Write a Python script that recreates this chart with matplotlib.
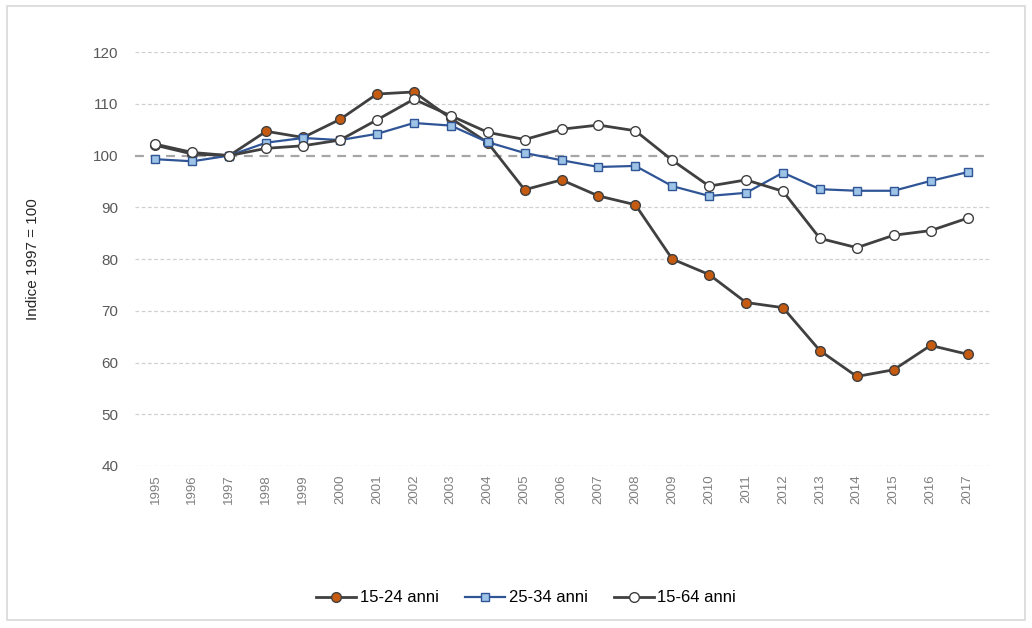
import matplotlib
matplotlib.use("Agg")
import matplotlib.pyplot as plt
from matplotlib.patches import Rectangle

plt.rcParams['font.family'] = ['Liberation Sans', 'DejaVu Sans']

years = list(range(1995, 2018))
year_labels = [str(y) for y in years]

s_15_24 = [102.0, 100.3, 100.0, 104.7, 103.5, 107.0, 111.9, 112.3, 107.2, 102.5,
           93.4, 95.3, 92.2, 90.5, 80.0, 77.0, 71.6, 70.6, 62.3, 57.3, 58.6, 63.3, 61.6]
s_25_34 = [99.3, 98.9, 100.0, 102.5, 103.4, 103.0, 104.2, 106.3, 105.8, 102.6,
           100.5, 99.1, 97.8, 98.0, 94.1, 92.2, 92.8, 96.7, 93.5, 93.2, 93.2, 95.1, 96.8]
s_15_64 = [102.2, 100.6, 100.0, 101.4, 101.9, 103.0, 106.9, 110.9, 107.7, 104.5,
           103.1, 105.1, 105.9, 104.8, 99.1, 94.1, 95.3, 93.1, 84.0, 82.2, 84.6, 85.5, 87.9]

yticks = [40, 50, 60, 70, 80, 90, 100, 110, 120]

fig = plt.figure(figsize=(10.32, 6.28), dpi=100)
ax = fig.add_axes([0.131, 0.258, 0.828, 0.659])

# gridlines
for v in yticks:
    if v == 100:
        ax.axhline(v, color="#a6a6a6", lw=1.6, ls=(0, (4, 3)), zorder=1)
    else:
        ax.axhline(v, color="#d0d0d0", lw=0.9, ls=(0, (3, 2)), zorder=1)

ax.plot(years, s_15_24, color="#404040", lw=2, marker="o", ms=7,
        mfc="#c55a11", mec="#404040", mew=1, label="15-24 anni", zorder=3)
ax.plot(years, s_25_34, color="#2f5597", lw=1.6, marker="s", ms=6,
        mfc="#9dc3e6", mec="#2f5597", mew=1, label="25-34 anni", zorder=4)
ax.plot(years, s_15_64, color="#404040", lw=2, marker="o", ms=7,
        mfc="white", mec="#404040", mew=1, label="15-64 anni", zorder=5)

ax.set_ylim(40, 120)
ax.set_xlim(1994.45, 2017.6)
ax.set_yticks(yticks)
ax.set_xticks(years)
ax.set_xticklabels(year_labels, rotation=90, fontsize=9.5, color="#7f7f7f")
ax.tick_params(axis="y", labelsize=11, labelcolor="#595959", length=0, pad=12)
ax.tick_params(axis="x", length=0, pad=6)
for sp in ax.spines.values():
    sp.set_visible(False)

ax.set_ylabel("Indice 1997 = 100", fontsize=11, color="#262626", labelpad=38)

fig.legend(loc="center", bbox_to_anchor=(0.51, 0.048), ncol=3, frameon=False,
           fontsize=12, handlelength=2.4, columnspacing=1.6, handletextpad=0.2)

fig.patches.append(Rectangle((0.007, 0.012), 0.986, 0.978, transform=fig.transFigure,
                             fill=False, edgecolor="#d9d9d9", lw=1.2))

fig.savefig("out.png", dpi=100)
